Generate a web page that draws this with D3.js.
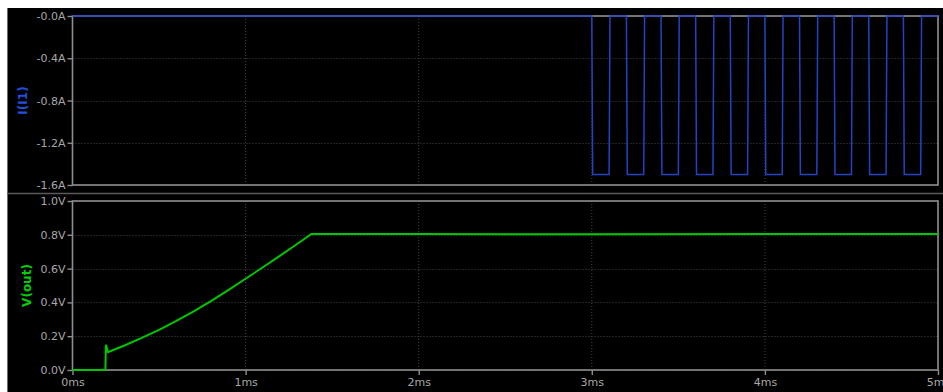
<!DOCTYPE html>
<html>
<head>
<meta charset="utf-8">
<script src="https://cdn.jsdelivr.net/npm/d3@7"></script>
<style>
  html, body { margin: 0; padding: 0; background: #ffffff; }
  svg { display: block; }
  text { font-family: "DejaVu Sans", Verdana, sans-serif; }
</style>
</head>
<body>
<svg id="chart" width="943" height="392"></svg>
<script>
// Time axis (ms)
const timeTicks = [0, 1, 2, 3, 4, 5];
const timeTickLabels = ["0ms", "1ms", "2ms", "3ms", "4ms", "5ms"];

// Current probe I(I1): pulse train starting at 3 ms
const iTime = [
  0, 3.0, 3.005, 3.1, 3.105,
  3.2, 3.205, 3.3, 3.305,
  3.4, 3.405, 3.5, 3.505,
  3.6, 3.605, 3.7, 3.705,
  3.8, 3.805, 3.9, 3.905,
  4.0, 4.005, 4.1, 4.105,
  4.2, 4.205, 4.3, 4.305,
  4.4, 4.405, 4.5, 4.505,
  4.6, 4.605, 4.7, 4.705,
  4.8, 4.805, 4.9, 4.905,
  5.0
];
const iValue = [
  0, 0, -1.5, -1.5, 0,
  0, -1.5, -1.5, 0,
  0, -1.5, -1.5, 0,
  0, -1.5, -1.5, 0,
  0, -1.5, -1.5, 0,
  0, -1.5, -1.5, 0,
  0, -1.5, -1.5, 0,
  0, -1.5, -1.5, 0,
  0, -1.5, -1.5, 0,
  0, -1.5, -1.5, 0,
  0
];
const iTicks = [0, -0.4, -0.8, -1.2, -1.6];
const iTickLabels = ["-0.0A", "-0.4A", "-0.8A", "-1.2A", "-1.6A"];

// Output voltage V(out)
const vTime  = [0, 0.19, 0.193, 0.205, 0.3, 0.4, 0.5, 0.6, 0.7, 0.8, 0.9, 1.0, 1.1, 1.2, 1.3, 1.38, 2.0, 3.0, 4.0, 5.0];
const vValue = [0, 0, 0.15, 0.105, 0.145, 0.19, 0.237, 0.29, 0.347, 0.408, 0.473, 0.54, 0.608, 0.677, 0.747, 0.805, 0.805, 0.803, 0.805, 0.805];
const vTicks = [0, 0.2, 0.4, 0.6, 0.8, 1.0];
const vTickLabels = ["0.0V", "0.2V", "0.4V", "0.6V", "0.8V", "1.0V"];

const svg = d3.select("#chart");
const W = 943, H = 392;

const axisColor = "#8e8e8e";
const gridColor = "#444444";
const labelColor = "#a8a8a8";

// Black plotting window
svg.append("rect").attr("x", 7).attr("y", 8).attr("width", W - 7).attr("height", H - 8)
  .attr("fill", "#000000");
svg.append("line").attr("x1", 7.5).attr("x2", 7.5).attr("y1", 8).attr("y2", H)
  .attr("stroke", "#6a6a6a").attr("stroke-width", 1);

const x = d3.scaleLinear().domain([0, 5]).range([72.5, 938]);
const yI = d3.scaleLinear().domain([-1.6, 0]).range([185, 16]);
const yV = d3.scaleLinear().domain([0, 1]).range([370, 201]);

// Separator between panes
svg.append("line").attr("x1", 7).attr("x2", W).attr("y1", 193.5).attr("y2", 193.5)
  .attr("stroke", "#5a5a5a").attr("stroke-width", 1.5);

function pane(y, ticks, labels, top, bottom) {
  const g = svg.append("g");
  // dotted grid
  g.selectAll("line.hgrid").data(ticks).join("line")
    .attr("x1", x(0)).attr("x2", x(5))
    .attr("y1", d => Math.round(y(d)) + 0.5).attr("y2", d => Math.round(y(d)) + 0.5)
    .attr("stroke", gridColor).attr("stroke-width", 1).attr("stroke-dasharray", "1,2");
  g.selectAll("line.vgrid").data(timeTicks).join("line")
    .attr("x1", d => x(d)).attr("x2", d => x(d))
    .attr("y1", top).attr("y2", bottom)
    .attr("stroke", gridColor).attr("stroke-width", 1).attr("stroke-dasharray", "1,2");
  // frame
  g.append("rect").attr("x", x(0)).attr("y", top).attr("width", x(5) - x(0)).attr("height", bottom - top)
    .attr("fill", "none").attr("stroke", axisColor).attr("stroke-width", 1.6);
  // left axis
  const ax = g.append("g").attr("transform", `translate(${x(0)},0)`)
    .call(d3.axisLeft(y).tickValues(ticks).tickSize(5).tickPadding(2)
      .tickFormat((d, i) => labels[i]));
  ax.select(".domain").remove();
  ax.selectAll(".tick line").attr("stroke", axisColor).attr("stroke-width", 1.4);
  ax.selectAll(".tick text").attr("fill", labelColor).attr("font-size", 11)
    .attr("font-family", "'DejaVu Sans', Verdana, sans-serif");
  return g;
}

pane(yI, iTicks, iTickLabels, 16, 185);
pane(yV, vTicks, vTickLabels, 201, 370);

// time axis under the lower pane; the last label runs off the right edge
const xa = svg.append("g").attr("transform", "translate(0,370)")
  .call(d3.axisBottom(x).tickValues(timeTicks).tickSize(5).tickPadding(3)
    .tickFormat((d, i) => timeTickLabels[i]));
xa.select(".domain").remove();
xa.selectAll(".tick line").attr("stroke", axisColor).attr("stroke-width", 1.4);
xa.selectAll(".tick text").attr("fill", labelColor).attr("font-size", 11)
  .attr("font-family", "'DejaVu Sans', Verdana, sans-serif");

// traces
const iLine = d3.line().x(d => x(d[0])).y(d => yI(d[1]));
svg.append("path").datum(d3.zip(iTime, iValue)).attr("d", iLine)
  .attr("fill", "none").attr("stroke", "#2244c4").attr("stroke-width", 1.5);

const vLine = d3.line().x(d => x(d[0])).y(d => yV(d[1]));
svg.append("path").datum(d3.zip(vTime, vValue)).attr("d", vLine)
  .attr("fill", "none").attr("stroke", "#00c800").attr("stroke-width", 2);

// trace names
svg.append("text").attr("transform", `translate(23,${(16 + 185) / 2}) rotate(-90)`)
  .attr("text-anchor", "middle").attr("dominant-baseline", "central")
  .attr("font-size", 12).attr("font-weight", "bold").attr("fill", "#2050e0")
  .text("I(I1)");
svg.append("text").attr("transform", `translate(27,${(201 + 370) / 2}) rotate(-90)`)
  .attr("text-anchor", "middle").attr("dominant-baseline", "central")
  .attr("font-size", 12).attr("font-weight", "bold").attr("fill", "#00d000")
  .text("V(out)");
</script>
</body>
</html>
